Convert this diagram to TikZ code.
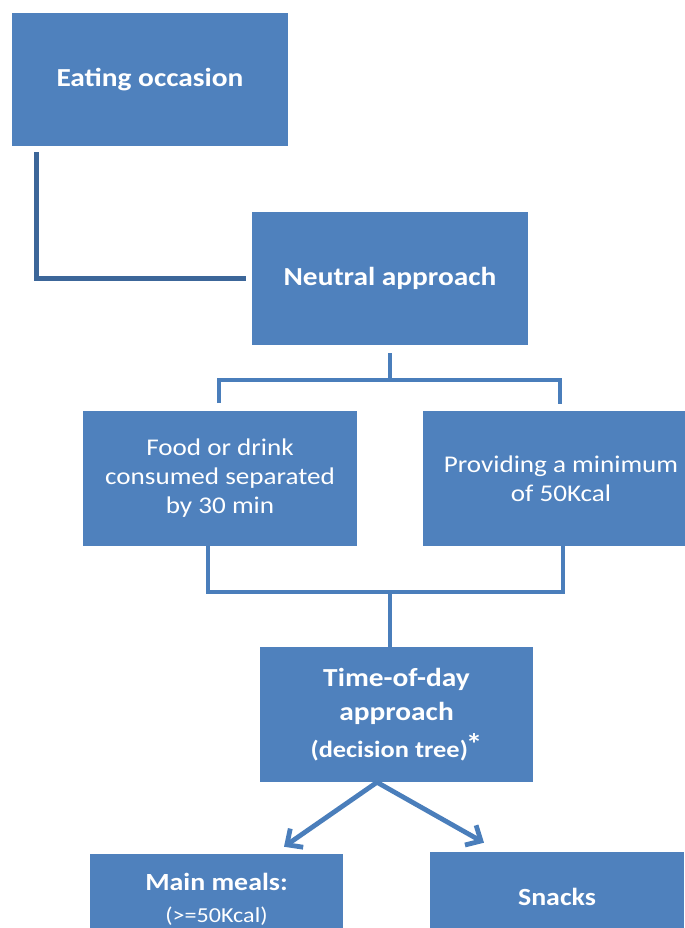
\documentclass[tikz,border=0pt]{standalone}
\usepackage{fontspec}
\setmainfont{Carlito}[FakeStretch=1.13]
\usepackage{xcolor}
\usetikzlibrary{calc, arrows.meta}

\definecolor{boxblue}{HTML}{4F81BD}
\definecolor{linkblue}{HTML}{4A7EBB}
\definecolor{elbowblue}{HTML}{3C6699}

\begin{document}
\begin{tikzpicture}[
    x=0.75pt, y=-0.75pt,
    box/.style={
        fill=boxblue, text=white, align=center, inner sep=0pt
    },
    head/.style={box, font=\fontsize{19.5}{25.5}\selectfont\bfseries},
    body/.style={box, font=\fontsize{18}{21.75}\selectfont},
    link/.style={draw=linkblue, line width=3.6pt},
    elbow/.style={link, draw=elbowblue},
    arr/.style={link, -{Straight Barb[length=9pt, width=17pt]}}
]
\useasboundingbox (0,0) rectangle (685,928);
\clip (0,0) rectangle (685,928);

% --- Boxes ---
\node[head, minimum width=207pt, minimum height=99.75pt] (eat) at (150,79.5)
    {Eating occasion};
\node[head, minimum width=207pt, minimum height=99.75pt] (neut) at (390,278.5)
    {Neutral approach};
\node[body, minimum width=205.5pt, minimum height=101.25pt] (food) at (220,478)
    {Food or drink\\consumed separated\\by 30 min};
\node[body, minimum width=207pt, minimum height=101.25pt] (kcal) at (561,478.5)
    {Providing a minimum\\of 50Kcal};
\node[head, minimum width=204.75pt, minimum height=101.25pt] (tod) at (396.5,714.5)
    {Time-of-day\\approach\\[2pt]{\fontsize{17.5}{21}\selectfont (decision tree)\kern-1.5pt\raisebox{2pt}{\fontsize{22}{22}\selectfont *}}};
\node[box, minimum width=189.75pt, minimum height=67.5pt,
      font=\fontsize{18.5}{24}\selectfont\bfseries] (meal) at (216.5,899)
    {Main meals:\\{\fontsize{16}{24}\selectfont\mdseries (>=50Kcal)}};
\node[head, minimum width=190.5pt, minimum height=67.5pt,
      font=\fontsize{18.5}{24}\selectfont\bfseries] (snack) at (557,897)
    {Snacks};

% --- Connectors ---
\draw[elbow] ($(eat.south west)+(25,6)$) |- ($(neut.west)+(-6,0)$);

\draw[link] ($(neut.south)+(0,8)$) -- ++(0,27);
\draw[link] ($(food.north)+(-1,-7)$) |- (390,380) -| ($(kcal.north)+(-1,-7)$);

\coordinate (join) at (390,592);
\draw[link] ($(food.south)+(-12,0)$) |- (join) -| ($(kcal.south)+(2,0)$);
\draw[link] (join) -- (tod.north -| join);

\draw[arr] ($(tod.south)+(-19.5,0)$) -- ($(meal.north)+(67.5,-7)$);
\draw[arr] ($(tod.south)+(-19.5,0)$) -- ($(snack.north)+(-73,-9)$);

\end{tikzpicture}
\end{document}
